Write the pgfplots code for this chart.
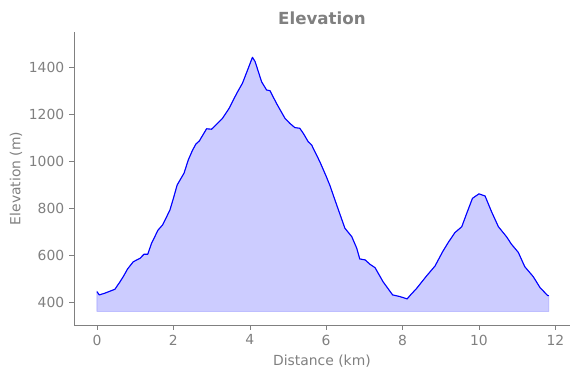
\documentclass[border=0pt]{standalone}
\usepackage{fontspec}
\setmainfont{DejaVu Sans}
\usepackage{pgfplots}
\pgfplotsset{compat=1.18}
\usepackage{pgfplotstable}
\definecolor{axgray}{RGB}{128,128,128}
\pgfplotstableread{
x y
0.00 444
0.06 430
0.20 437
0.47 454
0.60 485
0.69 508
0.80 540
0.95 571
1.13 586
1.23 603
1.33 603
1.43 650
1.60 706
1.72 728
1.91 791
2.00 840
2.10 898
2.28 948
2.39 1004
2.50 1045
2.59 1072
2.68 1085
2.87 1137
3.00 1135
3.13 1156
3.29 1182
3.46 1224
3.66 1288
3.81 1331
3.96 1394
4.07 1441
4.14 1423
4.31 1337
4.44 1302
4.53 1299
4.70 1245
4.92 1182
5.05 1160
5.18 1142
5.31 1139
5.40 1118
5.53 1082
5.62 1068
5.84 995
6.00 935
6.10 895
6.23 834
6.49 714
6.67 678
6.80 629
6.88 583
7.02 579
7.15 560
7.28 546
7.49 486
7.74 430
7.93 423
8.12 413
8.21 430
8.37 458
8.63 511
8.85 553
9.05 614
9.20 654
9.37 695
9.55 720
9.68 777
9.83 841
10.00 860
10.16 851
10.33 784
10.51 720
10.72 678
10.85 646
11.03 611
11.20 550
11.42 508
11.60 461
11.80 427
11.83 427
}\elev
\pgfplotstableread{
x y
0.00 360
0.00 444
0.06 430
0.20 437
0.47 454
0.60 485
0.69 508
0.80 540
0.95 571
1.13 586
1.23 603
1.33 603
1.43 650
1.60 706
1.72 728
1.91 791
2.00 840
2.10 898
2.28 948
2.39 1004
2.50 1045
2.59 1072
2.68 1085
2.87 1137
3.00 1135
3.13 1156
3.29 1182
3.46 1224
3.66 1288
3.81 1331
3.96 1394
4.07 1441
4.14 1423
4.31 1337
4.44 1302
4.53 1299
4.70 1245
4.92 1182
5.05 1160
5.18 1142
5.31 1139
5.40 1118
5.53 1082
5.62 1068
5.84 995
6.00 935
6.10 895
6.23 834
6.49 714
6.67 678
6.80 629
6.88 583
7.02 579
7.15 560
7.28 546
7.49 486
7.74 430
7.93 423
8.12 413
8.21 430
8.37 458
8.63 511
8.85 553
9.05 614
9.20 654
9.37 695
9.55 720
9.68 777
9.83 841
10.00 860
10.16 851
10.33 784
10.51 720
10.72 678
10.85 646
11.03 611
11.20 550
11.42 508
11.60 461
11.80 427
11.83 427
11.83 360
}\elevfill
\begin{document}
\begin{tikzpicture}
\useasboundingbox (0,0) rectangle (417.6pt,272.2pt);
\begin{axis}[
  at={(53.3pt,38.2pt)}, anchor=south west,
  scale only axis, width=357pt, height=211pt,
  xmin=-0.6, xmax=12.38, ymin=302, ymax=1549,
  axis x line*=bottom, axis y line*=left,
  axis line style={axgray, -},
  xtick={0,2,4,6,8,10,12},
  ytick={400,600,800,1000,1200,1400},
  tick align=outside, tick style={axgray}, major tick length=3.5pt,
  tick label style={font=\fontsize{10}{12}\selectfont, text=axgray},
  /pgf/number format/assume math mode=true,
  /pgf/number format/1000 sep={},
  xlabel={Distance (km)}, ylabel={Elevation (m)},
  label style={font=\fontsize{10}{12}\selectfont, text=axgray},
  ylabel style={xshift=0pt, yshift=-2pt},
  title={Elevation},
  title style={font=\fontsize{12}{14}\selectfont\bfseries, text=axgray, yshift=-4pt},
]
\addplot[fill=blue!20, draw=blue!35, line width=0.5pt] table[x=x,y=y] {\elevfill} -- cycle;
\addplot[blue, line width=0.8pt, line join=round] table[x=x,y=y] {\elev};
\end{axis}
\end{tikzpicture}
\end{document}
